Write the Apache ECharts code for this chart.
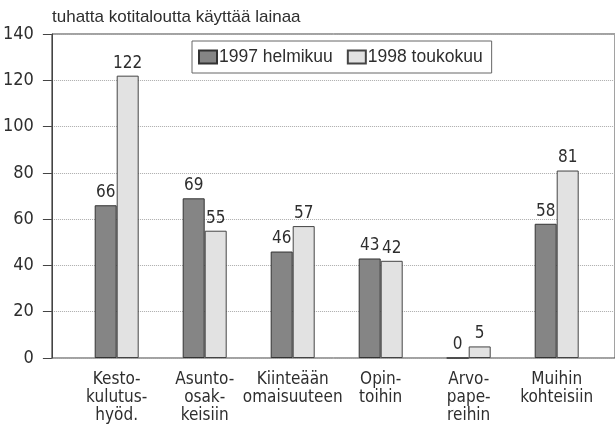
<!DOCTYPE html>
<html>
<head>
<meta charset="utf-8">
<script src="https://cdn.jsdelivr.net/npm/echarts@6/dist/echarts.min.js"></script>
<style>
  html, body { margin: 0; padding: 0; background: #fff; }
  #chart { width: 615px; height: 433px; }
</style>
</head>
<body>
<div id="chart"></div>
<script>
const categories = [
  'Kesto-\nkulutus-\nhyöd.',
  'Asunto-\nosak-\nkeisiin',
  'Kiinteään\nomaisuuteen',
  'Opin-\ntoihin',
  'Arvo-\npape-\nreihin',
  'Muihin\nkohteisiin'
]
const helmikuu1997 = [66, 69, 46, 43, 0, 58]
const toukokuu1998 = [122, 55, 57, 42, 5, 81]
const yMin = 0
const yMax = 140
const yStep = 20

const narrow = "'Liberation Sans Narrow', 'Arial Narrow', 'DejaVu Sans Condensed', sans-serif"
const regular = "'Liberation Sans', Arial, sans-serif"
const textcolor = '#2e2e2e'

let myChart = echarts.init(document.getElementById('chart'))

function barLabel() {
  return {
    show: true,
    position: 'top',
    distance: 4,
    color: textcolor,
    fontFamily: narrow,
    fontSize: 17
  }
}

myChart.setOption({
  animation: false,
  title: {
    text: 'tuhatta kotitaloutta käyttää lainaa',
    left: 52,
    top: 9,
    padding: 0,
    textStyle: {
      fontFamily: regular,
      fontSize: 17,
      fontWeight: 'normal',
      color: textcolor
    }
  },
  legend: {
    left: 192,
    top: 41,
    itemWidth: 18,
    itemHeight: 13,
    itemGap: 14,
    borderColor: '#666',
    borderWidth: 1,
    borderRadius: 0,
    padding: [7, 9, 7, 6],
    icon: 'rect',
    textStyle: {
      fontFamily: regular,
      fontSize: 17.5,
      color: textcolor,
      padding: [0, 0, 0, -3]
    }
  },
  grid: [
    // frame: left axis, top and bottom lines
    { left: 51, right: -3, top: 34, bottom: 75, show: true, borderColor: '#444', borderWidth: 1 },
    // bars
    { left: 72.7, right: 14.3, top: 34, bottom: 75 }
  ],
  xAxis: [
    { type: 'value', gridIndex: 0, show: false },
    {
      type: 'category',
      gridIndex: 1,
      data: categories,
      axisLine: { show: false },
      axisTick: { show: false },
      axisLabel: {
        interval: 0,
        margin: 13,
        lineHeight: 18,
        fontFamily: narrow,
        fontSize: 17,
        color: textcolor
      }
    }
  ],
  yAxis: [
    {
      type: 'value',
      gridIndex: 0,
      min: yMin,
      max: yMax,
      interval: yStep,
      axisLine: { show: true, lineStyle: { color: '#444' } },
      axisTick: { show: true, length: 9, lineStyle: { color: '#444' } },
      axisLabel: {
        margin: 18,
        fontFamily: narrow,
        fontSize: 18,
        color: textcolor
      },
      splitLine: {
        lineStyle: { type: 'dotted', color: '#aaa' }
      }
    },
    { type: 'value', gridIndex: 1, min: yMin, max: yMax, show: false }
  ],
  series: [
    {
      name: '1997 helmikuu',
      type: 'bar',
      xAxisIndex: 1,
      yAxisIndex: 1,
      data: helmikuu1997,
      barWidth: 22,
      barGap: '0%',
      itemStyle: { color: '#858585', borderColor: '#333', borderWidth: 1 },
      label: barLabel()
    },
    {
      name: '1998 toukokuu',
      type: 'bar',
      xAxisIndex: 1,
      yAxisIndex: 1,
      data: toukokuu1998,
      barWidth: 22,
      barGap: '0%',
      itemStyle: { color: '#e2e2e2', borderColor: '#444', borderWidth: 1 },
      label: barLabel()
    }
  ]
})
</script>
</body>
</html>
